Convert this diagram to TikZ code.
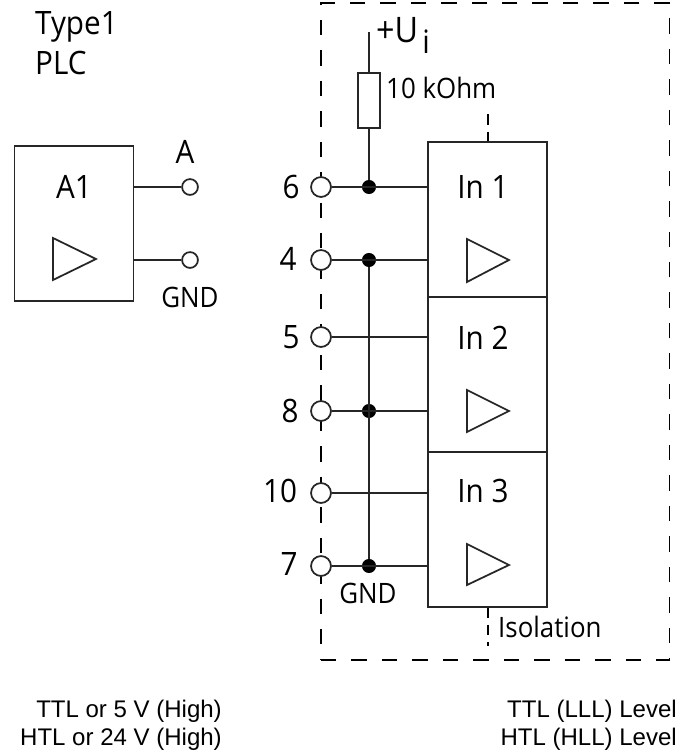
\documentclass[tikz,border=0pt]{standalone}
\usepackage{fontspec}
\setmainfont[FakeStretch=0.92]{Open Sans}
\newfontfamily\levelfont{Liberation Sans}
\usetikzlibrary{positioning}
\tikzset{wire/.style = {line width = 1.5pt, black!85}}
\tikzset{block/.style = {draw, wire, rectangle, fill = white, inner sep = 0, minimum width = 101.5pt, minimum height = 132pt}}
\tikzset{term/.style = {draw, wire, circle, fill = white, inner sep = 0, minimum size = 17pt}}
\tikzset{tip/.style = {draw, wire, circle, fill = white, inner sep = 0, minimum size = 13.5pt}}
\tikzset{junc/.style = {fill, circle, inner sep = 0, minimum size = 12pt}}
\tikzset{isol/.style = {line width = 1.3pt, dash pattern = on 13.2pt off 12.8pt}}
\tikzset{biglbl/.style = {anchor = base, inner sep = 0, font = \fontsize{27.5}{27.5}\selectfont}}
\tikzset{smalllbl/.style = {anchor = base, inner sep = 0, font = \fontsize{24}{24}\selectfont}}
\tikzset{levellbl/.style = {anchor = base east, inner sep = 0, font = \levelfont\fontsize{20.5}{20.5}\selectfont}}
\begin{document}
\begin{tikzpicture}[x=0.03cm, y=-0.03cm]
       \useasboundingbox (0, 0) rectangle (679, 752);

       % isolation boundary
       \draw [isol] (321, 660) -- (669.5, 660) -- (669.5, 3) -- (321, 3) -- (321, 660);
       \draw [isol, dash pattern = on 9pt off 6pt] (488, 114) -- (488, 142);
       \draw [isol, dash pattern = on 9pt off 6pt] (488, 607) -- (488, 646);

       % sender
       \node [block, minimum height = 132pt] (a1) at (74, 223.5) {};
       \node [tip] (tA) at (190, 187) {};
       \node [tip] (tG) at (190, 260) {};
       \draw [wire] (tA) -- (tA -| a1.east);
       \draw [wire] (tG) -- (tG -| a1.east);
       \draw [wire] (53, 238) -- (96, 259) -- (53, 280) -- cycle;

       % inputs
       \node [block] (in1) at (487.5, 219.5) {};
       \node [block] (in2) at (487.5, 374.5) {};
       \node [block] (in3) at (487.5, 529.5) {};
       \draw [wire] (467, 239) -- (509, 260) -- (467, 282) -- cycle;
       \draw [wire] (467, 390) -- (509, 411) -- (467, 432) -- cycle;
       \draw [wire] (467, 544) -- (509, 565) -- (467, 585) -- cycle;

       % terminals
       \node [term] (t6) at (321, 187) {};
       \node [term] (t4) at (321, 260) {};
       \node [term] (t5) at (321, 337) {};
       \node [term] (t8) at (321, 411) {};
       \node [term] (t10) at (321, 493) {};
       \node [term] (t7) at (321, 566) {};
       \node [junc] (j6) at (369, 187) {};
       \node [junc] (j4) at (369, 260) {};
       \node [junc] (j8) at (369, 411) {};
       \node [junc] (j7) at (369, 566) {};

       \draw [wire] (t6) -- (t6 -| in1.west);
       \draw [wire] (t4) -- (t4 -| in1.west);
       \draw [wire] (t5) -- (t5 -| in2.west);
       \draw [wire] (t8) -- (t8 -| in2.west);
       \draw [wire] (t10) -- (t10 -| in3.west);
       \draw [wire] (t7) -- (t7 -| in3.west);
       \draw [wire] (j4) -- (j7);

       % pull-up
       \coordinate (ui) at (369, 32);
       \node [draw, wire, rectangle, inner sep = 0, minimum width = 18.8pt, minimum height = 47pt] (r1) at (369, 100.5) {};
       \draw [wire] (ui) -- (r1);
       \draw [wire] (r1) -- (j6);

       % labels
       \node [biglbl, anchor = base west] (type) at (35, 34) {Type1};
       \node [biglbl, anchor = base west] (plc) at (35, 74) {PLC};
       \node [biglbl] (la) at (185, 163) {A};
       \node [biglbl] (la1) at (74, 198) {A1};
       \node [smalllbl] (lgnd) at (190, 307) {GND};
       \node [biglbl] (lin1) at (483, 198) {In 1};
       \node [biglbl] (lin2) at (483, 349) {In 2};
       \node [biglbl] (lin3) at (483, 502) {In 3};
       \node [biglbl] (l6) at (291, 198) {6};
       \node [biglbl] (l4) at (288, 270) {4};
       \node [biglbl] (l5) at (291, 348) {5};
       \node [biglbl] (l8) at (290, 422) {8};
       \node [biglbl] (l10) at (280, 502) {10};
       \node [biglbl] (l7) at (289, 575) {7};
       \node [biglbl, anchor = base west, font = \fontsize{30}{30}\selectfont] (lu) at (376, 42) {+U};
       \node [biglbl] (li) at (426, 53) {i};
       \node [smalllbl, anchor = base west] (lr) at (386, 98) {10 kOhm};
       \node [smalllbl] (lgnd2) at (368, 603) {GND};
       \node [smalllbl, anchor = base west] (liso) at (498, 637) {Isolation};

       \node [levellbl] (lev1) at (222, 717) {TTL or 5 V (High)};
       \node [levellbl] (lev2) at (222, 745) {HTL or 24 V (High)};
       \node [levellbl] (lev3) at (677, 717) {TTL (LLL) Level};
       \node [levellbl] (lev4) at (677, 745) {HTL (HLL) Level};
    \end{tikzpicture}
\end{document}
